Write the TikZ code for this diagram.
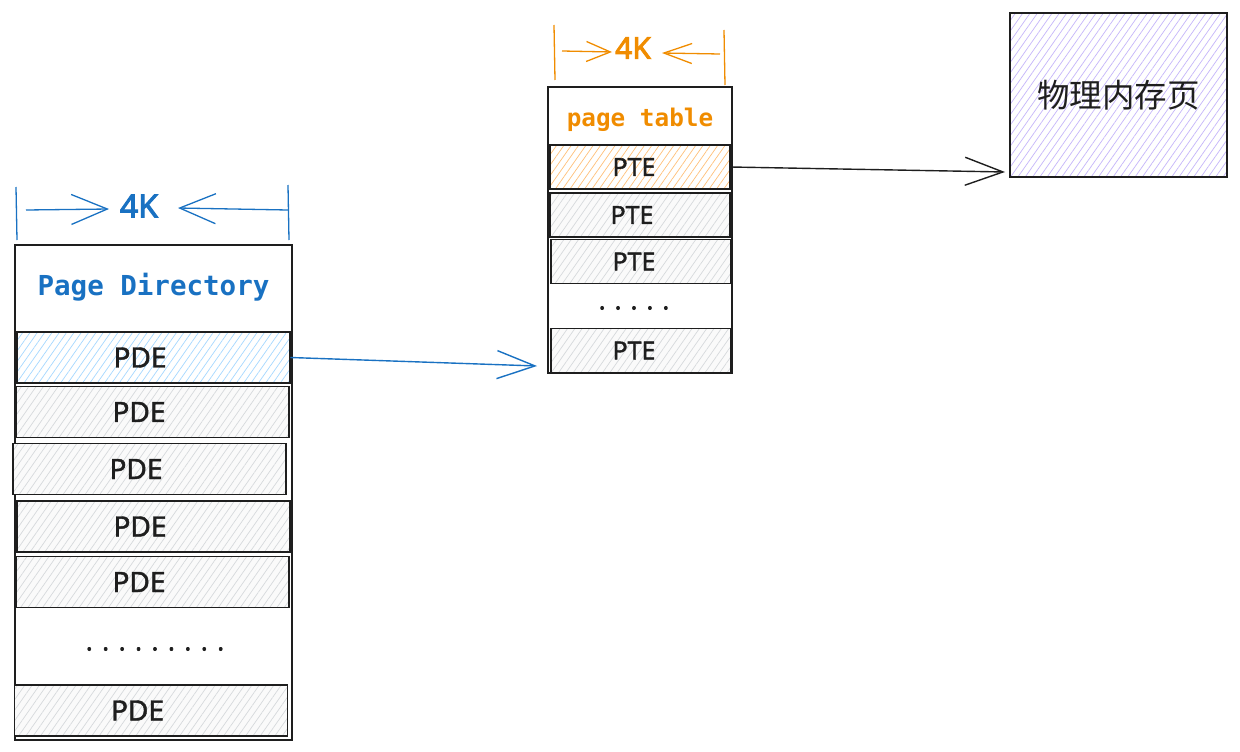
\documentclass[tikz,border=0pt]{standalone}
\usepackage{fontspec}
\setmainfont{Noto Sans}
\newfontfamily\semifont[FakeBold=1.6]{Noto Sans}
\newfontfamily\boldfont[FakeBold=3]{Noto Sans}
\newfontfamily\cjk{Noto Sans CJK SC}
\newfontfamily\monofont{DejaVu Sans Mono}
\usetikzlibrary{patterns.meta,arrows.meta}
\definecolor{ink}{HTML}{1E1E1E}
\definecolor{xblue}{HTML}{1971C2}
\definecolor{xorange}{HTML}{F08C00}
\definecolor{hgrey}{HTML}{D6D9DC}
\definecolor{bggrey}{HTML}{FAFAFA}
\definecolor{hblue}{HTML}{A5D8FF}
\definecolor{horange}{HTML}{FFC078}
\definecolor{hpurple}{HTML}{C5B6FA}
\begin{document}
\begin{tikzpicture}[x=1pt,y=-1pt,
  box/.style={draw=ink, line width=1.5pt, inner sep=0pt},
  rowbox/.style={box, preaction={fill=bggrey}, pattern={Lines[angle=55,distance=6pt,line width=0.7pt]}, pattern color=hgrey},
  rowtext/.style={font=\semifont\fontsize{28}{30}\selectfont, text=ink},
  pderow/.style={rowbox, minimum width=273pt, minimum height=51pt},
  pterow/.style={rowbox, minimum width=180pt, minimum height=44pt},
  dimblue/.style={draw=xblue, line width=1.3pt},
  dimorange/.style={draw=xorange, line width=1.3pt},
  conn/.style={line width=1.4pt},
  dotstext/.style={font=\boldfont\fontsize{24}{26}\selectfont, text=ink},
]
\useasboundingbox (0,0) rectangle (1240,752);

% Page directory
\node[box, minimum width=277pt, minimum height=495pt] (pd) at (153.5,492.5) {};
\node[font=\monofont\bfseries\fontsize{27.5}{29}\selectfont, text=xblue] (pdtitle) at (153.5,287) {Page Directory};
\node[pderow, pattern color=hblue, preaction={fill=white}, label={[rowtext]center:\hspace*{-27pt}PDE}] (pde1) at (153.5,357.5) {};
\node[pderow, label={[rowtext]center:\hspace*{-27pt}PDE}] (pde2) at (152.5,412) {};
\node[pderow, label={[rowtext]center:\hspace*{-27pt}PDE}] (pde3) at (149.5,469) {};
\node[pderow, label={[rowtext]center:\hspace*{-27pt}PDE}] (pde4) at (153.5,526.5) {};
\node[pderow, label={[rowtext]center:\hspace*{-27pt}PDE}] (pde5) at (152.5,582) {};
\node[dotstext] (pddots) at (155,649) {.\hspace{10pt}.\hspace{10pt}.\hspace{10pt}.\hspace{10pt}.\hspace{10pt}.\hspace{10pt}.\hspace{10pt}.\hspace{10pt}.};
\node[pderow, label={[rowtext]center:\hspace*{-27pt}PDE}] (pde6) at (151,710.5) {};

% 4K blue dimension
\coordinate (bt1a) at (16,187); \coordinate (bt1b) at (17,240);
\coordinate (bt2a) at (288,185); \coordinate (bt2b) at (289,240);
\draw[dimblue] (bt1a) -- (bt1b);
\draw[dimblue] (bt2a) -- (bt2b);
\node[font=\boldfont\fontsize{32}{34}\selectfont, text=xblue] (k1) at (139,206) {4K};
\coordinate (ba1) at (26,210); \coordinate (ba2) at (109,209);
\coordinate (ba3) at (288,210); \coordinate (ba4) at (178,208);
\draw[dimblue, -{Straight Barb[length=36pt,width=30pt]}] (ba1) -- (ba2);
\draw[dimblue, -{Straight Barb[length=36pt,width=30pt]}] (ba3) -- (ba4);

% Page table
\node[box, minimum width=184pt, minimum height=286pt] (pt) at (640,230) {};
\node[font=\monofont\bfseries\fontsize{24.3}{26}\selectfont, text=xorange] (pttitle) at (640,120) {page table};
\node[pterow, pattern color=horange, preaction={fill=white}, label={[rowtext, font=\semifont\fontsize{25}{27}\selectfont]center:\hspace*{-12pt}PTE}] (pte1) at (640,167) {};
\node[pterow, label={[rowtext, font=\semifont\fontsize{25}{27}\selectfont]center:\hspace*{-16pt}PTE}] (pte2) at (640,215) {};
\node[pterow, label={[rowtext, font=\semifont\fontsize{25}{27}\selectfont]center:\hspace*{-14pt}PTE}] (pte3) at (641,261.5) {};
\node[dotstext] (ptdots) at (634,308) {.\hspace{9.5pt}.\hspace{9.5pt}.\hspace{9.5pt}.\hspace{9.5pt}.};
\node[pterow, label={[rowtext, font=\semifont\fontsize{25}{27}\selectfont]center:\hspace*{-14pt}PTE}] (pte4) at (641,350.5) {};

% 4K orange dimension
\coordinate (ot1a) at (554,25); \coordinate (ot1b) at (555,80);
\coordinate (ot2a) at (724,30); \coordinate (ot2b) at (725,85);
\draw[dimorange] (ot1a) -- (ot1b);
\draw[dimorange] (ot2a) -- (ot2b);
\node[font=\boldfont\fontsize{30}{32}\selectfont, text=xorange] (k2) at (633,48) {4K};
\coordinate (oa1) at (562,51); \coordinate (oa2) at (612,52);
\coordinate (oa3) at (720,54); \coordinate (oa4) at (662,53);
\draw[dimorange, -{Straight Barb[length=24pt,width=20pt]}] (oa1) -- (oa2);
\draw[dimorange, -{Straight Barb[length=28pt,width=20pt]}] (oa3) -- (oa4);

% Physical page
\node[box, preaction={fill=white}, pattern={Lines[angle=55,distance=6pt,line width=0.7pt]}, pattern color=hpurple,
  minimum width=217pt, minimum height=164pt, font=\cjk\fontsize{32.5}{34}\selectfont, text=ink] (mem) at (1118.5,95) {物理内存页};

% Connectors
\coordinate (ptin) at (537,366);
\coordinate (memin) at (1005,172);
\draw[conn, draw=xblue, -{Straight Barb[length=38pt,width=28pt]}] (pde1.east) -- (ptin);
\draw[conn, draw=ink, -{Straight Barb[length=38pt,width=28pt]}] (pte1.east) -- (memin);
\end{tikzpicture}
\end{document}
